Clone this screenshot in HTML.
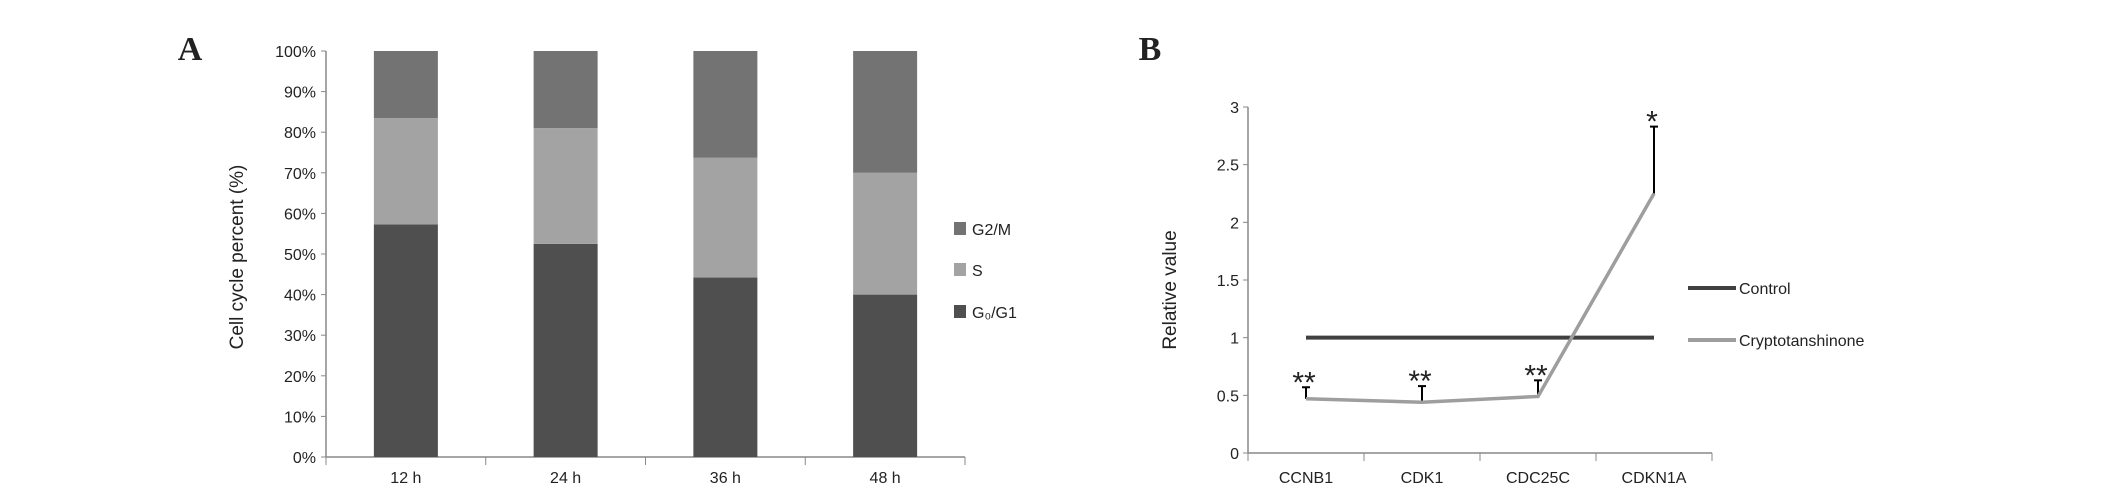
<!DOCTYPE html>
<html><head><meta charset="utf-8"><style>
body{margin:0;background:#fff}
svg{display:block}
text{font-family:"Liberation Sans",sans-serif;fill:#222}
text.serif{font-family:"Liberation Serif",serif;font-weight:bold}
</style></head><body>
<svg id="s" width="2126" height="497" xmlns="http://www.w3.org/2000/svg">
<text class="serif" x="190" y="60" font-size="34" text-anchor="middle">A</text>
<text class="serif" x="1150" y="60" font-size="34" text-anchor="middle">B</text>
<g id="A"></g>
<g id="B"></g>
</svg>
<script>
const timeCats=["12 h","24 h","36 h","48 h"];
const g0g1=[57.3,52.5,44.2,40];
const sPhase=[26.2,28.5,29.5,30];
const g2m=[16.5,19,26.3,30];
const pctTicks=[0,10,20,30,40,50,60,70,80,90,100];

const geneCats=["CCNB1","CDK1","CDC25C","CDKN1A"];
const controlVals=[1,1,1,1];
const cryptoVals=[0.47,0.44,0.49,2.25];
const cryptoErr=[0.10,0.14,0.14,0.58];
const sigMarks=["**","**","**","*"];
const relTicks=[0,0.5,1,1.5,2,2.5,3];

const NS="http://www.w3.org/2000/svg";
function mk(p,t,a,txt){const e=document.createElementNS(NS,t);for(const k in a)e.setAttribute(k,a[k]);if(txt!==undefined)e.textContent=txt;p.appendChild(e);return e;}

// Panel A
const A=document.getElementById('A');
const ax0=326,ax1=965,ay0=457,ay1=51;
const yA=v=>ay0-(v/100)*(ay0-ay1);
const bandA=(ax1-ax0)/timeCats.length;
const xA=i=>ax0+bandA*(i+0.5);
let l=mk(A,'line',{x1:ax0,y1:ay1,x2:ax0,y2:ay0,stroke:'#888','stroke-width':1.5});


l=mk(A,'line',{x1:ax0,y1:ay0,x2:ax1,y2:ay0,stroke:'#888','stroke-width':1.5});


pctTicks.forEach(v=>{
  mk(A,'line',{x1:ax0-5,y1:yA(v),x2:ax0,y2:yA(v),stroke:'#888'});
  const t=mk(A,'text',{x:ax0-10,y:yA(v)+6,'font-size':16,'text-anchor':'end'},v+'%');
  
  
});
for(let i=0;i<=timeCats.length;i++)mk(A,'line',{x1:ax0+bandA*i,y1:ay0,x2:ax0+bandA*i,y2:ay0+8,stroke:'#888'});
const colsA=['#4f4f4f','#a3a3a3','#737373'];
const names=['g0g1','s','g2m'];
timeCats.forEach((c,i)=>{
  const vals=[g0g1[i],sPhase[i],g2m[i]];let cum=0;
  vals.forEach((v,k)=>{
    const r=mk(A,'rect',{x:xA(i)-32,y:yA(cum+v),width:64,height:yA(cum)-yA(cum+v),fill:colsA[k]});
    
    
    cum+=v;
  });
  const t=mk(A,'text',{x:xA(i),y:483,'font-size':16,'text-anchor':'middle'},c);
  
  
});
let yt=mk(A,'text',{x:0,y:0,'font-size':19,'text-anchor':'middle',transform:'translate(243,257) rotate(-90)'},'Cell cycle percent (%)');


const legA=[['G2/M','#737373',229],['S','#a3a3a3',270],['G₀/G1','#4f4f4f',312]];
legA.forEach(([n,c,y])=>{
  const g=mk(A,'g',{});
  
  
  mk(g,'rect',{x:954,y:y-7,width:12,height:13,fill:c});
  mk(g,'text',{x:972,y:y+6,'font-size':16},n);
});

// Panel B
const B=document.getElementById('B');
const bx0=1248,bx1=1712,by0=453,by1=107;
const yB=v=>by0-(v/3)*(by0-by1);
const bandB=(bx1-bx0)/geneCats.length;
const xB=i=>bx0+bandB*(i+0.5);
l=mk(B,'line',{x1:bx0,y1:by1,x2:bx0,y2:by0,stroke:'#888','stroke-width':1.5});


l=mk(B,'line',{x1:bx0,y1:by0,x2:bx1,y2:by0,stroke:'#888','stroke-width':1.5});


relTicks.forEach(v=>{
  mk(B,'line',{x1:bx0-5,y1:yB(v),x2:bx0,y2:yB(v),stroke:'#888'});
  const t=mk(B,'text',{x:bx0-9,y:yB(v)+6,'font-size':16,'text-anchor':'end'},String(v));
  
  
});
for(let i=0;i<=geneCats.length;i++)mk(B,'line',{x1:bx0+bandB*i,y1:by0,x2:bx0+bandB*i,y2:by0+8,stroke:'#888'});
geneCats.forEach((c,i)=>{
  const t=mk(B,'text',{x:xB(i),y:483,'font-size':16,'text-anchor':'middle'},c);
  
  
});
let p=mk(B,'polyline',{points:controlVals.map((v,i)=>xB(i)+','+yB(v)).join(' '),fill:'none',stroke:'#404040','stroke-width':4});


cryptoVals.forEach((v,i)=>{
  const e=mk(B,'g',{});
  
  
  mk(e,'line',{x1:xB(i),y1:yB(v),x2:xB(i),y2:yB(v+cryptoErr[i]),stroke:'#000','stroke-width':2});
  mk(e,'line',{x1:xB(i)-4,y1:yB(v+cryptoErr[i]),x2:xB(i)+4,y2:yB(v+cryptoErr[i]),stroke:'#000','stroke-width':2});
  const s=mk(B,'text',{x:xB(i)-2,y:yB(v+cryptoErr[i])+5,'font-size':30,'text-anchor':'middle',fill:'#222'},sigMarks[i]);
  
  
});
p=mk(B,'polyline',{points:cryptoVals.map((v,i)=>xB(i)+','+yB(v)).join(' '),fill:'none',stroke:'#9e9e9e','stroke-width':3.5});


yt=mk(B,'text',{x:0,y:0,'font-size':19,'text-anchor':'middle',transform:'translate(1176,290) rotate(-90)'},'Relative value');


[['Control','#404040',288],['Cryptotanshinone','#9e9e9e',340]].forEach(([n,c,y])=>{
  const g=mk(B,'g',{});
  
  
  mk(g,'line',{x1:1688,y1:y,x2:1736,y2:y,stroke:c,'stroke-width':4});
  mk(g,'text',{x:1739,y:y+6,'font-size':16},n);
});
</script>
</body></html>
